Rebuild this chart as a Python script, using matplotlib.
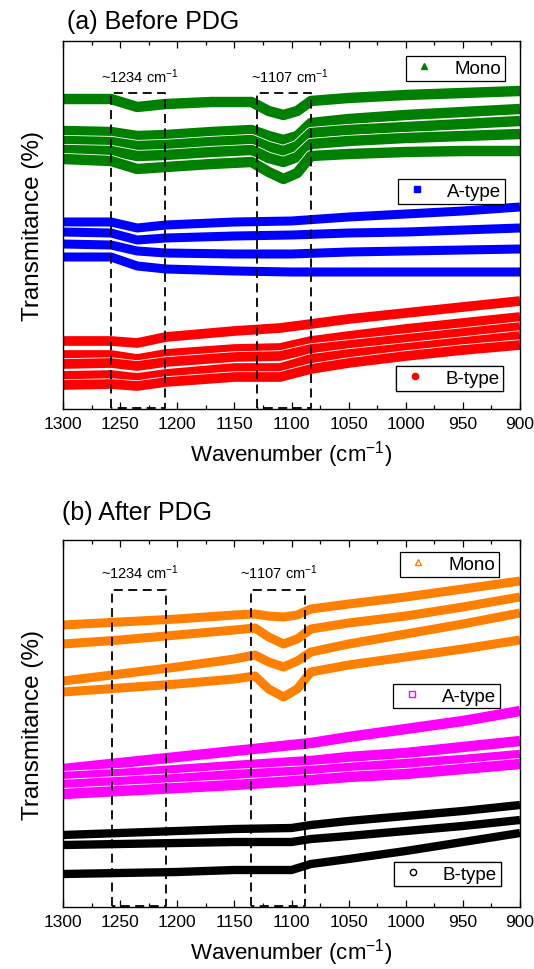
import numpy as np
import matplotlib
matplotlib.use('Agg')
import matplotlib.pyplot as plt
import matplotlib.patheffects as pe
from matplotlib.lines import Line2D
from matplotlib.ticker import MultipleLocator

plt.rcParams['font.family'] = ['Liberation Sans', 'DejaVu Sans']
plt.rcParams['mathtext.default'] = 'regular'

# ------------------------------------------------------------------------------
# (a) Before PDG  -- transmittance in arbitrary units (curves offset)

wn_mono_a = [1300, 1258, 1235, 1210, 1170, 1135, 1120, 1107, 1095, 1083, 1050, 1000, 950, 900]
mono_a = [
    [310, 310, 302, 305, 307, 307, 298, 294, 298, 308, 311, 314, 316, 318],
    [278, 277, 273, 274, 277, 279, 273, 269, 273, 286, 290, 294, 297, 300],
    [268, 267, 263, 264, 267, 269, 262, 258, 263, 276, 279, 282, 285, 288],
    [259, 258, 253, 254, 257, 259, 251, 247, 252, 265, 268, 271, 273, 275],
    [250, 248, 240, 242, 245, 247, 237, 230, 236, 253, 255, 257, 258, 258],
]

wn_atype_a = [1300, 1258, 1235, 1210, 1150, 1100, 1050, 1000, 950, 900]
atype_a = [
    [187, 187, 181, 184, 187, 188, 192, 195, 198, 202],
    [177, 176, 169, 171, 173, 174, 176, 177, 179, 181],
    [165, 164, 158, 156, 155, 155, 157, 158, 159, 160],
    [152, 152, 143, 140, 138, 137, 137, 137, 137, 137],
]

wn_btype_a = [1300, 1258, 1235, 1210, 1150, 1110, 1083, 1050, 1000, 950, 900]
btype_a = [
    [68, 68, 66, 72, 78, 81, 85, 90, 96, 102, 108],
    [54, 54, 50, 55, 60, 61, 68, 73, 80, 86, 92],
    [45, 46, 43, 47, 52, 53, 60, 64, 70, 76, 82],
    [33, 34, 31, 35, 41, 41, 50, 55, 61, 67, 73],
    [24, 25, 23, 27, 32, 32, 40, 46, 53, 59, 64],
]

# (b) After PDG
wn_mono_b = [1300, 1250, 1200, 1150, 1132, 1120, 1107, 1095, 1083, 1050, 1000, 950, 900]
mono_b = [
    [282, 285, 288, 292, 293, 291, 290, 292, 298, 303, 310, 318, 326],
    [263, 267, 272, 277, 279, 270, 263, 268, 278, 284, 291, 300, 310],
    [226, 233, 240, 248, 252, 245, 240, 246, 255, 263, 273, 283, 294],
    [215, 219, 223, 228, 231, 218, 210, 218, 235, 242, 250, 258, 267],
]

wn_atype_b = [1300, 1250, 1200, 1150, 1083, 1050, 1000, 950, 900]
atype_b = [
    [138, 144, 150, 156, 164, 170, 178, 186, 196],
    [130, 133, 137, 141, 146, 150, 154, 160, 166],
    [122, 125, 128, 132, 136, 139, 143, 147, 152],
    [113, 116, 119, 122, 127, 130, 133, 138, 143],
]

wn_btype_b = [1300, 1250, 1200, 1150, 1100, 1083, 1050, 1000, 950, 900]
btype_b = [
    [72, 74, 76, 78, 79, 82, 86, 91, 96, 102],
    [62, 63, 64, 65, 65, 68, 71, 76, 81, 87],
    [33, 34, 35, 37, 37, 43, 48, 56, 65, 74],
]

peak_labels = ['~1234 cm$^{-1}$', '~1107 cm$^{-1}$']
xticks = [1300, 1250, 1200, 1150, 1100, 1050, 1000, 950, 900]

# ------------------------------------------------------------------------------

W, H = 534, 970
fig = plt.figure(figsize=(W / 100, H / 100), dpi=100)

ax_a = fig.add_axes([63 / W, 1 - 410 / H, 457 / W, 368 / H])
ax_b = fig.add_axes([63 / W, 1 - 908 / H, 457 / W, 367 / H])


def draw_group(ax, wn, curves, color, lw):
    for ys in curves:
        ax.plot(wn, ys, color=color, lw=lw, solid_capstyle='butt',
                solid_joinstyle='round',
                path_effects=[pe.Stroke(linewidth=lw + 1.2, foreground='white'),
                              pe.Normal()])


def add_legend(ax, marker, color, filled, label, anchor):
    h = Line2D([], [], ls='none', marker=marker, ms=4.5, color=color,
               mfc=color if filled else 'white', mec=color, mew=1.0)
    leg = ax.legend([h], [label], loc='upper right', bbox_to_anchor=anchor,
                    borderaxespad=0, fancybox=False, edgecolor='black',
                    framealpha=1, fontsize=13.5, handlelength=1.6,
                    handletextpad=0.8, borderpad=0.2)
    leg.get_frame().set_linewidth(0.9)
    ax.add_artist(leg)


def style_axis(ax, ymax):
    ax.set_xlim(1300, 900)
    ax.set_ylim(0, ymax)
    ax.set_xticks(xticks)
    ax.xaxis.set_minor_locator(MultipleLocator(25))
    ax.tick_params(axis='x', which='both', direction='in', top=True,
                   bottom=True, labelsize=12.5, pad=5)
    ax.tick_params(axis='x', which='major', length=5, width=0.9)
    ax.tick_params(axis='x', which='minor', length=3, width=0.9)
    ax.set_yticks([])
    for s in ax.spines.values():
        s.set_linewidth(1.0)
    ax.set_xlabel('Wavenumber (cm$^{-1}$)', fontsize=16, labelpad=5)
    ax.set_ylabel('Transmitance (%)', fontsize=17.5, labelpad=14)


def draw_boxes(ax, boxes, top):
    for x0, x1 in boxes:
        ax.plot([x0, x0, x1, x1, x0], [1.5, top, top, 1.5, 1.5], color='black',
                lw=1.3, ls=(0, (5, 3)), zorder=5)


# panel (a)
draw_group(ax_a, wn_mono_a, mono_a, '#008000', 7.5)
draw_group(ax_a, wn_atype_a, atype_a, '#0000ff', 6.5)
draw_group(ax_a, wn_btype_a, btype_a, '#ff0000', 7.0)
draw_boxes(ax_a, [(1258, 1211), (1130.5, 1083)], 316)
ax_a.text(1233, 333, peak_labels[0], ha='center', va='center', fontsize=10.5)
ax_a.text(1101, 333, peak_labels[1], ha='center', va='center', fontsize=10.5)
style_axis(ax_a, 368)
add_legend(ax_a, '^', '#008000', True, 'Mono', (0.967, 0.959))
add_legend(ax_a, 's', '#0000ff', True, 'A-type', (0.967, 0.625))
add_legend(ax_a, 'o', '#ff0000', True, 'B-type', (0.963, 0.117))

# panel (b)
draw_group(ax_b, wn_mono_b, mono_b, '#ff8000', 6.5)
draw_group(ax_b, wn_atype_b, atype_b, '#ff00ff', 7.5)
draw_group(ax_b, wn_btype_b, btype_b, '#000000', 6.0)
draw_boxes(ax_b, [(1257, 1210), (1135.5, 1088)], 317)
ax_b.text(1233, 335, peak_labels[0], ha='center', va='center', fontsize=10.5)
ax_b.text(1111, 335, peak_labels[1], ha='center', va='center', fontsize=10.5)
style_axis(ax_b, 367)
add_legend(ax_b, '^', '#ff8000', False, 'Mono', (0.954, 0.967))
add_legend(ax_b, 's', '#ff00ff', False, 'A-type', (0.956, 0.608))
add_legend(ax_b, 'o', '#000000', False, 'B-type', (0.958, 0.123))

fig.text(67 / W, 1 - 22 / H, '(a) Before PDG', fontsize=18, ha='left', va='center')
fig.text(62 / W, 1 - 513 / H, '(b) After PDG', fontsize=18, ha='left', va='center')

fig.savefig('out.png', dpi=100)
